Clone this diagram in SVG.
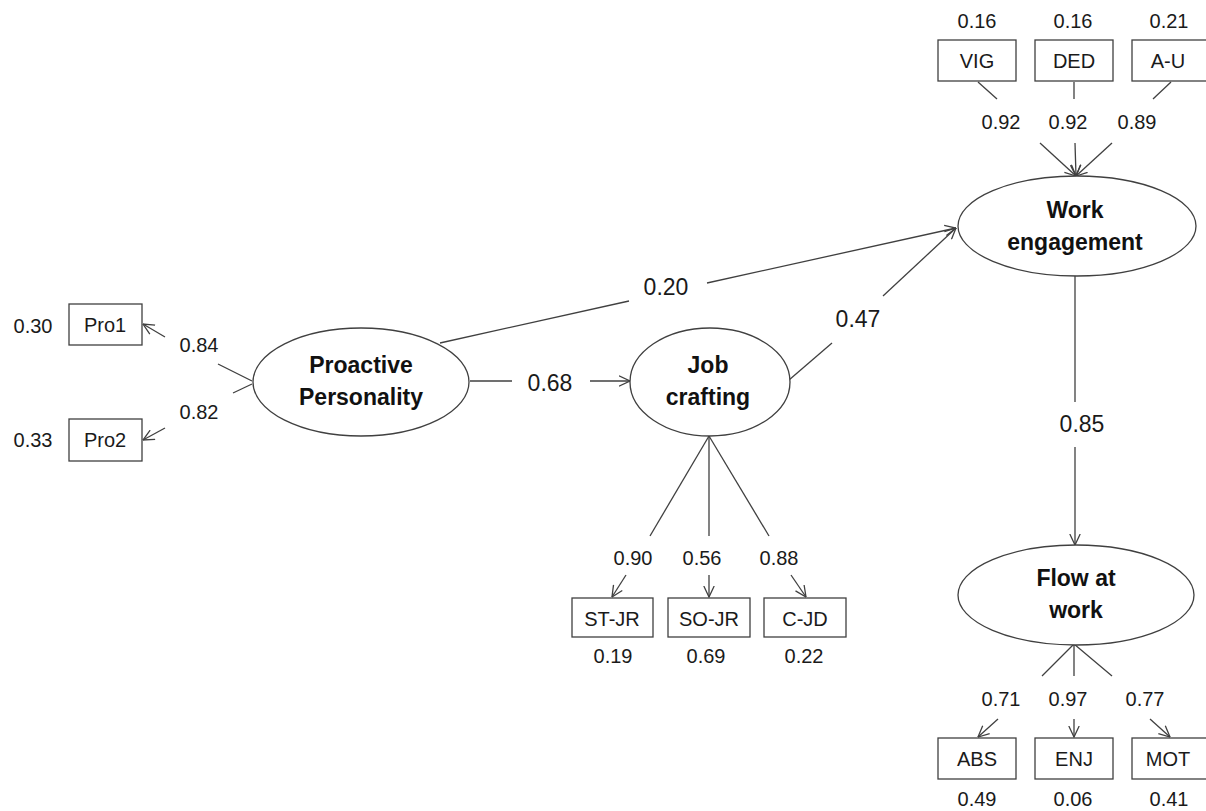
<svg xmlns="http://www.w3.org/2000/svg" width="1206" height="811" viewBox="0 0 1206 811">
<style>
.shape{fill:#fff;stroke:#404040;stroke-width:1.3}
.ln{fill:none;stroke:#404040;stroke-width:1.3}
.t{font-family:"Liberation Sans",Arial,sans-serif;font-size:20px;fill:#1a1a1a;text-anchor:middle}
.p{font-family:"Liberation Sans",Arial,sans-serif;font-size:23px;fill:#1a1a1a;text-anchor:middle}
.b{font-family:"Liberation Sans",Arial,sans-serif;font-size:23px;font-weight:bold;fill:#111;text-anchor:middle}
</style>
<defs>
<marker id="arr" viewBox="0 0 12 12" refX="11.5" refY="6" markerWidth="12" markerHeight="12" markerUnits="userSpaceOnUse" orient="auto">
<path d="M0.5,0.8 L11.5,6 L0.5,11.2" fill="none" stroke="#404040" stroke-width="1.3"/>
</marker>
</defs>
<rect width="1206" height="811" fill="#fff"/>

<g id="connectors">
<!-- PP -> Pro1 -->
<line class="ln" x1="252" y1="381" x2="218" y2="364"/>
<line class="ln" x1="165" y1="337" x2="143" y2="324" marker-end="url(#arr)"/>
<!-- PP -> Pro2 -->
<line class="ln" x1="252" y1="384" x2="233" y2="393"/>
<line class="ln" x1="165" y1="428" x2="143" y2="440" marker-end="url(#arr)"/>
<!-- PP -> WE -->
<line class="ln" x1="440" y1="343" x2="629" y2="301"/>
<line class="ln" x1="707" y1="283" x2="956" y2="228" marker-end="url(#arr)"/>
<!-- PP -> JC -->
<line class="ln" x1="470" y1="381" x2="512" y2="381"/>
<line class="ln" x1="590" y1="381" x2="630" y2="381" marker-end="url(#arr)"/>
<!-- JC -> WE -->
<line class="ln" x1="789" y1="380" x2="832" y2="343"/>
<line class="ln" x1="883" y1="296" x2="956" y2="228" marker-end="url(#arr)"/>
<!-- VIG/DED/A-U -> WE -->
<line class="ln" x1="978" y1="82" x2="997" y2="99"/>
<line class="ln" x1="1040" y1="143" x2="1076" y2="176" marker-end="url(#arr)"/>
<line class="ln" x1="1074" y1="82" x2="1074" y2="99"/>
<line class="ln" x1="1075" y1="143" x2="1076" y2="176" marker-end="url(#arr)"/>
<line class="ln" x1="1171" y1="82" x2="1153" y2="99"/>
<line class="ln" x1="1112" y1="143" x2="1076" y2="176" marker-end="url(#arr)"/>
<!-- WE -> Flow -->
<line class="ln" x1="1075" y1="275" x2="1075" y2="402"/>
<line class="ln" x1="1075" y1="447" x2="1075" y2="545" marker-end="url(#arr)"/>
<!-- JC -> indicators -->
<line class="ln" x1="709" y1="436" x2="650" y2="536"/>
<line class="ln" x1="626" y1="575" x2="612" y2="597" marker-end="url(#arr)"/>
<line class="ln" x1="709" y1="436" x2="709" y2="536"/>
<line class="ln" x1="709" y1="575" x2="709" y2="597" marker-end="url(#arr)"/>
<line class="ln" x1="709" y1="436" x2="769" y2="536"/>
<line class="ln" x1="791" y1="575" x2="806" y2="597" marker-end="url(#arr)"/>
<!-- Flow -> indicators -->
<line class="ln" x1="1074" y1="644" x2="1042" y2="676"/>
<line class="ln" x1="998" y1="719" x2="978" y2="737" marker-end="url(#arr)"/>
<line class="ln" x1="1074" y1="644" x2="1074" y2="676"/>
<line class="ln" x1="1074" y1="719" x2="1074" y2="737" marker-end="url(#arr)"/>
<line class="ln" x1="1074" y1="644" x2="1112" y2="676"/>
<line class="ln" x1="1150" y1="719" x2="1170" y2="737" marker-end="url(#arr)"/>
</g>

<g id="labels">
<text class="t" x="199" y="352">0.84</text>
<text class="t" x="199" y="419">0.82</text>
<text class="p" x="666" y="295">0.20</text>
<text class="p" x="550" y="391">0.68</text>
<text class="p" x="858" y="327">0.47</text>
<text class="p" x="1082" y="432">0.85</text>
<text class="t" x="1001" y="129">0.92</text>
<text class="t" x="1068" y="129">0.92</text>
<text class="t" x="1137" y="129">0.89</text>
<text class="t" x="633" y="565">0.90</text>
<text class="t" x="702" y="565">0.56</text>
<text class="t" x="779" y="565">0.88</text>
<text class="t" x="1001" y="706">0.71</text>
<text class="t" x="1068" y="706">0.97</text>
<text class="t" x="1145" y="706">0.77</text>
</g>

<g id="pp">
<ellipse class="shape" cx="361" cy="382" rx="108" ry="54"/>
<text class="b" x="361" y="373">Proactive</text>
<text class="b" x="361" y="405">Personality</text>
</g>
<g id="jc">
<ellipse class="shape" cx="710" cy="382" rx="80" ry="54"/>
<text class="b" x="708" y="373">Job</text>
<text class="b" x="708" y="405">crafting</text>
</g>
<g id="we">
<ellipse class="shape" cx="1077" cy="226" rx="119" ry="50"/>
<text class="b" x="1075" y="218">Work</text>
<text class="b" x="1075" y="250">engagement</text>
</g>
<g id="flow">
<ellipse class="shape" cx="1076" cy="595" rx="118" ry="50"/>
<text class="b" x="1076" y="586">Flow at</text>
<text class="b" x="1076" y="618">work</text>
</g>

<g id="pro1">
<rect class="shape" x="69" y="304" width="73" height="41"/>
<text class="t" x="105" y="332">Pro1</text>
<text class="t" x="33" y="333">0.30</text>
</g>
<g id="pro2">
<rect class="shape" x="69" y="419" width="73" height="42"/>
<text class="t" x="105" y="447">Pro2</text>
<text class="t" x="33" y="447">0.33</text>
</g>

<g id="vig">
<rect class="shape" x="938" y="40" width="78" height="41"/>
<text class="t" x="977" y="68">VIG</text>
<text class="t" x="977" y="28">0.16</text>
</g>
<g id="ded">
<rect class="shape" x="1035" y="40" width="78" height="41"/>
<text class="t" x="1074" y="68">DED</text>
<text class="t" x="1073" y="28">0.16</text>
</g>
<g id="au">
<rect class="shape" x="1132" y="40" width="78" height="41"/>
<text class="t" x="1168" y="68">A-U</text>
<text class="t" x="1169" y="28">0.21</text>
</g>

<g id="stjr">
<rect class="shape" x="572" y="598" width="81" height="39"/>
<text class="t" x="612" y="626">ST-JR</text>
<text class="t" x="613" y="663">0.19</text>
</g>
<g id="sojr">
<rect class="shape" x="668" y="598" width="82" height="39"/>
<text class="t" x="709" y="626">SO-JR</text>
<text class="t" x="706" y="663">0.69</text>
</g>
<g id="cjd">
<rect class="shape" x="764" y="598" width="82" height="39"/>
<text class="t" x="805" y="626">C-JD</text>
<text class="t" x="804" y="663">0.22</text>
</g>

<g id="abs">
<rect class="shape" x="938" y="738" width="78" height="41"/>
<text class="t" x="977" y="766">ABS</text>
<text class="t" x="977" y="806">0.49</text>
</g>
<g id="enj">
<rect class="shape" x="1035" y="738" width="78" height="41"/>
<text class="t" x="1074" y="766">ENJ</text>
<text class="t" x="1073" y="806">0.06</text>
</g>
<g id="mot">
<rect class="shape" x="1132" y="738" width="78" height="41"/>
<text class="t" x="1168" y="766">MOT</text>
<text class="t" x="1169" y="806">0.41</text>
</g>
</svg>
